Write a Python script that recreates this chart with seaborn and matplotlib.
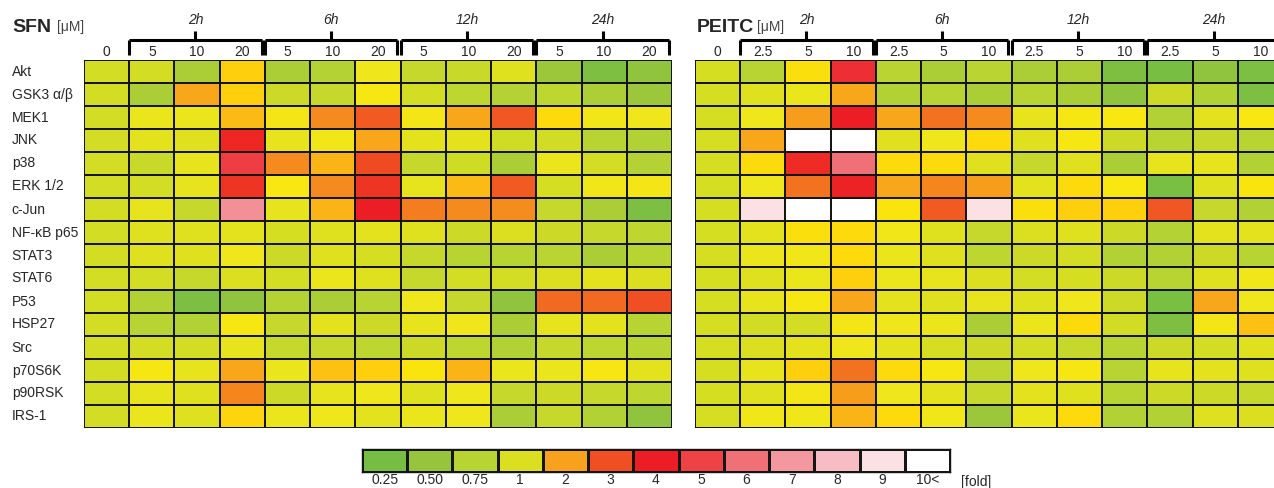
# Heatmap of fold changes in signalling proteins after SFN / PEITC treatment

import matplotlib
matplotlib.use("Agg")
import matplotlib.pyplot as plt
from matplotlib.colors import LinearSegmentedColormap
import numpy as np
import pandas as pd
import seaborn as sns


PROTEINS = ["Akt", "GSK3 α/β", "MEK1", "JNK", "p38", "ERK 1/2", "c-Jun",
            "NF-κB p65", "STAT3", "STAT6", "P53", "HSP27", "Src",
            "p70S6K", "p90RSK", "IRS-1"]
HOURS = ["2h", "6h", "12h", "24h"]
SFN_DOSES = ["0"] + ["5", "10", "20"] * 4
PEITC_DOSES = ["0"] + ["2.5", "5", "10"] * 4

# fold change, 12 = "10<"
SFN_FOLD = [
    [0.95, 0.95, 0.65, 1.70, 0.65, 0.72, 1.25, 0.85, 0.88, 1.05, 0.55, 0.32, 0.45],
    [0.95, 0.65, 1.95, 1.70, 0.90, 0.85, 1.40, 0.95, 0.80, 0.72, 0.80, 0.67, 0.55],
    [0.95, 1.20, 1.20, 1.80, 1.35, 2.30, 2.85, 1.35, 1.95, 2.90, 1.60, 1.30, 1.25],
    [0.95, 1.10, 1.05, 3.80, 1.15, 1.30, 1.95, 1.10, 1.10, 0.92, 0.93, 0.75, 0.70],
    [0.95, 0.88, 1.15, 4.90, 2.30, 1.85, 3.10, 0.85, 0.92, 0.65, 1.20, 0.95, 0.72],
    [0.95, 0.95, 1.15, 3.50, 1.45, 2.30, 3.50, 1.15, 1.80, 2.85, 0.97, 1.30, 1.35],
    [0.95, 1.15, 0.85, 6.80, 1.15, 1.85, 4.00, 2.45, 2.30, 2.25, 0.85, 0.65, 0.30],
    [0.95, 1.05, 1.05, 1.10, 0.97, 1.05, 1.10, 1.05, 0.90, 1.00, 0.90, 0.85, 0.80],
    [0.95, 1.05, 1.05, 1.25, 0.90, 1.05, 0.97, 0.85, 0.75, 0.75, 0.77, 0.65, 0.75],
    [0.95, 0.95, 0.85, 1.00, 0.95, 1.20, 1.05, 0.85, 0.95, 0.95, 1.00, 1.10, 1.00],
    [0.95, 0.70, 0.30, 0.45, 0.72, 0.65, 0.75, 1.25, 0.85, 0.45, 2.65, 2.65, 3.00],
    [0.95, 0.75, 0.70, 1.40, 0.85, 1.10, 0.90, 1.15, 1.25, 0.65, 1.15, 1.10, 0.75],
    [0.95, 0.95, 0.95, 1.15, 0.85, 0.85, 0.80, 0.90, 0.80, 0.70, 0.85, 0.80, 0.75],
    [0.95, 1.40, 1.15, 1.95, 1.20, 1.75, 1.70, 1.50, 1.85, 1.20, 1.20, 1.40, 1.10],
    [0.95, 1.15, 1.05, 2.35, 0.90, 1.15, 1.25, 1.05, 1.25, 0.85, 0.90, 0.85, 0.80],
    [0.95, 1.20, 1.05, 1.65, 1.20, 1.25, 1.10, 1.20, 1.25, 0.65, 0.85, 0.70, 0.45],
]

PEITC_FOLD = [
    [0.97, 0.75, 1.55, 4.50, 0.77, 0.65, 0.77, 0.65, 0.65, 0.32, 0.27, 0.45, 0.30],
    [0.97, 1.05, 1.20, 1.95, 0.70, 0.75, 0.65, 0.75, 0.65, 0.45, 0.90, 0.70, 0.30],
    [0.97, 1.25, 2.05, 4.00, 1.95, 2.55, 2.30, 1.15, 1.40, 1.45, 0.70, 1.10, 1.45],
    [0.97, 1.95, 12.0, 12.0, 1.05, 1.25, 1.60, 1.05, 1.40, 0.90, 0.75, 0.85, 0.75],
    [0.97, 1.60, 3.70, 6.00, 1.60, 1.60, 1.05, 0.85, 1.05, 0.65, 1.15, 1.15, 0.70],
    [0.97, 1.25, 2.55, 3.90, 1.95, 2.35, 2.05, 1.10, 1.60, 1.45, 0.28, 1.05, 1.50],
    [0.97, 9.00, 12.0, 12.0, 1.50, 2.85, 9.00, 1.55, 1.70, 1.70, 2.90, 0.85, 0.70],
    [0.97, 1.10, 1.55, 1.60, 1.30, 1.05, 0.85, 1.00, 1.05, 0.90, 0.72, 1.10, 1.10],
    [0.97, 1.20, 1.30, 1.60, 1.20, 1.05, 0.80, 0.90, 0.95, 0.70, 0.70, 0.90, 0.75],
    [0.97, 1.05, 1.20, 1.70, 1.20, 1.15, 1.00, 0.95, 0.97, 0.90, 0.75, 1.05, 1.30],
    [0.97, 1.15, 1.40, 1.95, 1.10, 1.05, 1.15, 1.05, 1.25, 0.90, 0.28, 1.95, 1.25],
    [0.97, 0.93, 0.95, 1.35, 1.25, 1.20, 0.65, 1.20, 1.60, 0.93, 0.32, 1.35, 1.75],
    [0.97, 1.00, 1.10, 1.25, 1.10, 0.97, 0.90, 0.95, 0.85, 0.75, 0.90, 0.95, 1.05],
    [0.97, 1.15, 1.70, 2.55, 1.60, 1.40, 0.80, 1.25, 1.40, 0.75, 1.15, 1.10, 1.05],
    [0.97, 1.05, 1.35, 2.05, 1.25, 1.10, 0.85, 1.10, 1.05, 0.75, 0.90, 0.90, 0.85],
    [0.97, 1.30, 1.30, 1.85, 1.60, 1.30, 0.55, 1.20, 1.60, 0.70, 0.70, 1.05, 1.00],
]

LEGEND_FOLDS = [0.25, 0.5, 0.75, 1, 2, 3, 4, 5, 6, 7, 8, 9, 10]
LEGEND_LABELS = ["0.25", "0.50", "0.75", "1", "2", "3", "4", "5", "6", "7", "8", "9", "10<"]
LEGEND_COLORS = ["#76BE43", "#97C43D", "#B8D433", "#DADF1F", "#F7A11C", "#F04E23",
                 "#ED1C24", "#EE4146", "#F07077", "#F4979F", "#F8BCC3", "#FBE0E4", "#FFFFFF"]

# colour nodes on the legend-step scale (extra yellow steps between 1 and 2)
nodes = [(i, c) for i, c in enumerate(LEGEND_COLORS)]
nodes += [(3.25, "#EFE61B"), (3.45, "#F9E70F"), (3.65, "#FDD20B"), (3.85, "#FBB516")]
nodes.sort()
CMAP = LinearSegmentedColormap.from_list("fold", [(p / 12, c) for p, c in nodes])

W, H = 1274, 488


def to_step(fold):
    return np.interp(np.asarray(fold, dtype=float), LEGEND_FOLDS, np.arange(13))


def draw_panel(ax, fold, doses, show_rows):
    df = pd.DataFrame(to_step(fold), index=PROTEINS, columns=range(13))
    sns.heatmap(df, ax=ax, cmap=CMAP, vmin=0, vmax=12, cbar=False,
                linewidths=1.3, linecolor="#151515")
    ax.xaxis.tick_top()
    ax.set_xticks(np.arange(13) + 0.5)
    ax.set_xticklabels(doses, fontsize=10)
    ax.tick_params(axis="x", length=0, pad=1)
    if show_rows:
        ax.set_yticks(np.arange(16) + 0.5)
        ax.set_yticklabels(PROTEINS, fontsize=10, rotation=0, ha="left")
        ax.tick_params(axis="y", length=0, pad=52)
    else:
        ax.set_yticks([])
    ax.set_xlabel("")
    ax.set_ylabel("")

    # time brackets over each dose group
    for g, hour in enumerate(HOURS):
        x0 = 1 + 3 * g + 0.0
        x1 = 4 + 3 * g - 0.07
        xm = (x0 + x1) / 2
        kw = dict(color="black", lw=2.2, clip_on=False, solid_capstyle="butt")
        ax.plot([x0, x1], [-0.87, -0.87], **kw)
        ax.plot([x0, x0], [-0.87, -0.2], **kw)
        ax.plot([x1, x1], [-0.87, -0.2], **kw)
        ax.plot([xm, xm], [-0.87, -1.25], **kw)
        ax.text(xm, -1.75, hour, ha="center", va="center", fontsize=10,
                style="italic")


sns.set_theme(style="white")
plt.rcParams["font.family"] = ["Liberation Sans", "DejaVu Sans"]

fig = plt.figure(figsize=(W / 100, H / 100), dpi=100)
fig.patch.set_facecolor("white")

ax_sfn = fig.add_axes([84 / W, 1 - 428 / H, 588 / W, 368 / H])
ax_pei = fig.add_axes([695 / W, 1 - 428 / H, 588 / W, 368 / H])
draw_panel(ax_sfn, SFN_FOLD, SFN_DOSES, True)
draw_panel(ax_pei, PEITC_FOLD, PEITC_DOSES, False)

fig.text(12 / W, 1 - 28 / H, "SFN", fontsize=14, fontweight="bold", va="center")
fig.text(57 / W, 1 - 27 / H, "[μM]", fontsize=10, color="#444444", va="center")
fig.text(697 / W, 1 - 28 / H, "PEITC", fontsize=14, fontweight="bold", va="center")
fig.text(757 / W, 1 - 27 / H, "[μM]", fontsize=10, color="#444444", va="center")

# legend strip
ax_leg = fig.add_axes([362 / W, 1 - 472 / H, 588 / W, 23 / H])
leg = pd.DataFrame([to_step(LEGEND_FOLDS)], columns=LEGEND_LABELS)
sns.heatmap(leg, ax=ax_leg, cmap=CMAP, vmin=0, vmax=12, cbar=False,
            linewidths=1.0, linecolor="#151515")
ax_leg.set_xticks(np.arange(13) + 0.5)
ax_leg.set_xticklabels(LEGEND_LABELS, fontsize=10, rotation=0)
ax_leg.tick_params(axis="x", length=0, pad=1)
ax_leg.set_yticks([])
for side in ax_leg.spines.values():
    side.set_visible(True)
    side.set_color("#151515")
    side.set_linewidth(1.0)
ax_leg.text(13.25, 1.45, "[fold]", fontsize=10, ha="left", va="center")

fig.savefig("out.png", dpi=100)
